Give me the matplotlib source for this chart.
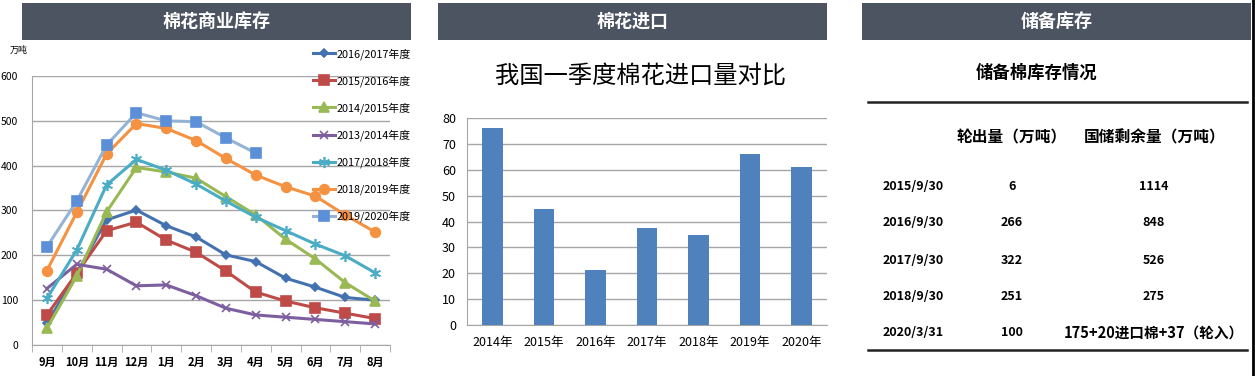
import matplotlib
matplotlib.use("Agg")
import matplotlib.pyplot as plt
import numpy as np

plt.rcParams['font.family'] = ['Noto Sans CJK SC', 'DejaVu Sans']

W, H = 1255, 376

# ---------------- data ----------------
months = ["9月", "10月", "11月", "12月", "1月", "2月", "3月", "4月", "5月", "6月", "7月", "8月"]
s_2016_2017 = [48, 160, 279, 301, 266, 241, 201, 186, 149, 129, 106, 100]
s_2015_2016 = [67, 160, 255, 274, 234, 207, 165, 118, 98, 83, 71, 59]
s_2014_2015 = [37, 154, 297, 396, 386, 372, 331, 290, 236, 192, 139, 98]
s_2013_2014 = [126, 180, 169, 132, 134, 110, 82, 67, 62, 57, 52, 47]
s_2017_2018 = [104, 212, 357, 414, 390, 359, 321, 285, 255, 225, 199, 161]
s_2018_2019 = [166, 296, 426, 494, 483, 456, 416, 379, 353, 332, 290, 252]
s_2019_2020 = [219, 321, 446, 518, 500, 498, 462, 428]
series_labels = ["2016/2017年度", "2015/2016年度", "2014/2015年度", "2013/2014年度",
                 "2017/2018年度", "2018/2019年度", "2019/2020年度"]

import_years = ["2014年", "2015年", "2016年", "2017年", "2018年", "2019年", "2020年"]
import_values = [76.2, 44.8, 21.1, 37.5, 34.6, 66.0, 61.1]

reserve_dates = ["2015/9/30", "2016/9/30", "2017/9/30", "2018/9/30", "2020/3/31"]
reserve_out = ["6", "266", "322", "251", "100"]
reserve_left = ["1114", "848", "526", "275", "175+20进口棉+37（轮入）"]
reserve_headers = ["轮出量（万吨）", "国储剩余量（万吨）"]

panel_titles = ["棉花商业库存", "棉花进口", "储备库存"]


def rect(x0, y0, x1, y1):
    return [x0 / W, 1 - y1 / H, (x1 - x0) / W, (y1 - y0) / H]


fig = plt.figure(figsize=(W / 100, H / 100), dpi=100)
fig.patch.set_facecolor("white")

# ---------------- header bars ----------------
header_color = "#4C5462"
for (x0, x1), t in zip([(22, 411), (438, 827), (862, 1251)], panel_titles):
    hx = fig.add_axes(rect(x0, 3, x1, 40))
    hx.set_facecolor(header_color)
    hx.set_xticks([]); hx.set_yticks([])
    for s in hx.spines.values():
        s.set_visible(False)
    hx.text(0.5, 0.5, t, color="white", fontsize=13, fontweight="bold",
            ha="center", va="center", transform=hx.transAxes)

# ---------------- left line chart ----------------
ax = fig.add_axes(rect(32, 76, 390, 345))
x = np.arange(len(months))
styles = [
    (s_2016_2017, "#4472B0", "D", 4.5),
    (s_2015_2016, "#BE4B48", "s", 6.5),
    (s_2014_2015, "#98B954", "^", 7),
    (s_2013_2014, "#7D5FA0", "x", 6),
    (s_2017_2018, "#4AACC5", (6, 2, 0), 8),
    (s_2018_2019, "#F59242", "o", 7),
    (s_2019_2020, "#95B3D7", "s", 7),
]
handles = []
for (vals, c, m, ms), lab in zip(styles, series_labels):
    mfc = c if lab != "2019/2020年度" else "#5B8FD8"
    mec = c if lab != "2019/2020年度" else "#5B8FD8"
    h, = ax.plot(x[:len(vals)], vals, color=c, lw=2.2, marker=m, ms=ms,
                 mfc=mfc, mec=mec, mew=1.2, label=lab, zorder=3)
    handles.append(h)

ax.set_xlim(-0.5, 11.5)
ax.set_ylim(0, 600)
ax.set_yticks(np.arange(0, 601, 100))
ax.yaxis.grid(True, color="#A6A6A6", lw=1.0)
ax.set_axisbelow(True)
ax.set_xticks(x)
ax.set_xticklabels(months, fontsize=8, fontweight="bold")
ax.set_xticks(np.arange(-0.5, 12, 1), minor=True)
ax.tick_params(axis="x", which="major", length=0, pad=8)
ax.tick_params(axis="x", which="minor", length=5, color="#A6A6A6", direction="out")
ax.tick_params(axis="y", length=0, labelsize=7.5, pad=10)
for s in ["top", "right"]:
    ax.spines[s].set_visible(False)
ax.spines["left"].set_color("#A6A6A6")
ax.spines["bottom"].set_color("#A6A6A6")
ax.text(10 / W, 1 - 50 / H, "万吨", transform=fig.transFigure, fontsize=6.5,
        ha="left", va="center")
leg = ax.legend(handles=handles, loc="upper left",
                bbox_to_anchor=(313 / W, 1 - 48 / H), bbox_transform=fig.transFigure,
                frameon=False, fontsize=7.8, handlelength=2.0, handletextpad=0.15,
                labelspacing=1.42, borderaxespad=0, borderpad=0)

# ---------------- middle bar chart ----------------
bx = fig.add_axes(rect(467, 118, 827, 325))
xi = np.arange(len(import_years))
bx.bar(xi, import_values, width=0.4, color="#4F81BD", zorder=3)
bx.set_xlim(-0.5, len(import_years) - 0.5)
bx.set_ylim(0, 80)
bx.set_yticks(np.arange(0, 81, 10))
bx.yaxis.grid(True, color="#A6A6A6", lw=1.0)
bx.set_axisbelow(True)
bx.set_xticks(xi)
bx.set_xticklabels(import_years, fontsize=9)
bx.tick_params(axis="x", length=0, pad=8)
bx.tick_params(axis="y", length=0, labelsize=9, pad=8)
for s in ["top", "right"]:
    bx.spines[s].set_visible(False)
bx.spines["left"].set_color("#A6A6A6")
bx.spines["bottom"].set_color("#A6A6A6")
fig.text(640 / W, 1 - 77 / H, "我国一季度棉花进口量对比", fontsize=17.5,
         ha="center", va="center")

# ---------------- right table ----------------
tx = fig.add_axes(rect(860, 0, 1255, 376))
tx.set_xlim(860, 1255)
tx.set_ylim(376, 0)
tx.axis("off")
tx.text(1037, 73, "储备棉库存情况", fontsize=12.5, fontweight="bold", ha="center", va="center")
tx.plot([868, 1247], [102, 102], color="#222222", lw=1.8)
tx.plot([868, 1247], [350, 350], color="#222222", lw=1.8)
tx.text(1012, 137, reserve_headers[0], fontsize=11.3, fontweight="bold", ha="center", va="center")
tx.text(1155, 137, reserve_headers[1], fontsize=11.3, fontweight="bold", ha="center", va="center")
row_y = [187, 223, 260, 296, 333]
for i, (yy, d, o, r) in enumerate(zip(row_y, reserve_dates, reserve_out, reserve_left)):
    tx.text(913, yy, d, fontsize=9, fontweight="bold", ha="center", va="center")
    tx.text(1012, yy, o, fontsize=9, fontweight="bold", ha="center", va="center")
    tx.text(1154, yy, r, fontsize=10.5 if i == len(row_y) - 1 else 9,
            fontweight="bold", ha="center", va="center")
tx.plot([1253, 1253], [0, 376], color="black", lw=2)

fig.savefig("out.png", dpi=100)
